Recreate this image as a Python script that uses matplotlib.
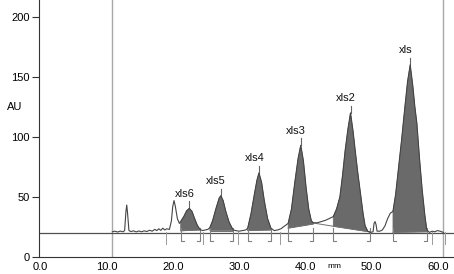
import numpy as np
import matplotlib
matplotlib.use("Agg")
import matplotlib.pyplot as plt

plt.rcParams['font.family'] = ['Liberation Sans', 'DejaVu Sans']

# detector trace (mm, AU)
trace_x = [10.9, 11.3, 11.7, 12.1, 12.5, 12.75, 12.95, 13.07, 13.2, 13.4, 13.7, 14.1, 14.5,
           14.9, 15.3, 15.7, 16.1, 16.5, 16.9, 17.3, 17.6, 17.9, 18.2, 18.5, 18.8, 19.1,
           19.5, 19.8, 20.0, 20.2, 20.4, 20.7, 21.0, 21.2, 21.7, 22.1, 22.5, 22.9, 23.3,
           23.7, 24.1, 24.5, 24.9, 25.3, 25.6, 26.0, 26.5, 27.0, 27.25, 27.6, 28.0, 28.5,
           29.1, 29.5, 30.0, 30.5, 31.0, 31.3, 31.8, 32.3, 32.7, 33.0, 33.4, 33.8, 34.3,
           34.8, 35.3, 35.8, 36.3, 36.9, 37.4, 37.9, 38.4, 38.9, 39.3, 39.7, 40.1, 40.5,
           40.9, 41.2, 41.8, 42.4, 43.0, 43.6, 44.2, 44.7, 45.2, 45.6, 46.0, 46.4, 46.8,
           47.2, 47.5, 47.9, 48.3, 48.7, 49.0, 49.4, 49.8, 50.2, 50.35, 50.5, 50.65, 50.8,
           51.2, 51.6, 52.0, 52.4, 52.8, 53.2, 53.6, 54.0, 54.5, 55.0, 55.4, 55.8, 56.2,
           56.5, 56.8, 57.2, 57.6, 58.0, 58.3, 58.7, 59.1, 59.5, 59.9, 60.3, 60.8]
trace_y = [21.0, 21.5, 20.8, 21.6, 21.0, 22.0, 38.0, 43.3, 36.0, 22.0, 21.2, 21.8, 20.9,
           21.7, 21.0, 21.8, 21.2, 22.3, 21.5, 23.0, 22.0, 23.5, 22.2, 24.0, 22.5, 23.5,
           23.0, 30.0, 42.0, 47.0, 42.0, 32.0, 28.0, 29.5, 34.0, 38.5, 40.5, 38.0, 32.0,
           26.5, 23.0, 22.0, 22.5, 23.0, 24.5, 30.0, 40.0, 49.0, 51.0, 47.0, 38.0, 29.0,
           22.5, 22.0, 21.5, 22.0, 22.5, 24.0, 36.0, 52.0, 64.0, 70.0, 62.0, 47.0, 32.0,
           24.0, 22.0, 22.5, 23.5, 26.0, 28.0, 40.0, 62.0, 82.0, 93.0, 80.0, 58.0, 40.0,
           30.0, 28.5, 28.5, 29.5, 30.5, 32.0, 33.6, 40.0, 50.0, 68.0, 89.0, 106.0, 120.0,
           104.0, 89.0, 70.0, 53.0, 36.0, 26.0, 21.5, 20.5, 21.0, 28.0, 29.5, 27.0, 21.5,
           21.5, 22.5, 26.0, 32.0, 36.5, 38.0, 52.0, 72.0, 97.5, 125.0, 146.0, 160.0, 142.0,
           125.0, 111.5, 82.0, 56.0, 35.0, 22.5, 20.5, 21.5, 21.0, 22.0, 21.5, 20.5]

peak_names = ['xls6', 'xls5', 'xls4', 'xls3', 'xls2', 'xls']
peak_top_x = [22.5, 27.25, 33.0, 39.3, 46.8, 55.8]
peak_top_y = [40.5, 51.0, 70.0, 93.0, 120.0, 160.0]
peak_start = [21.2, 25.6, 31.3, 37.4, 44.2, 53.2]
peak_end = [24.1, 29.1, 34.8, 41.2, 49.8, 58.3]
base_start_y = [21.8, 22.0, 22.0, 24.0, 25.6, 20.5]
base_end_y = [22.5, 22.0, 22.5, 27.5, 20.8, 21.0]
extra_marks = [19.0, 24.5, 29.8, 36.1, 59.1, 61.0]

tx = np.array(trace_x)
ty = np.array(trace_y)

fig = plt.figure(figsize=(4.54, 2.74), dpi=100)
ax = fig.add_axes([0.086, 0.062, 0.914, 0.938])

ax.axhline(20.3, color='#505050', lw=0.9, zorder=2)
ax.axvline(10.9, color='#a8a8a8', lw=1.0, zorder=1)
ax.axvline(60.8, color='#a8a8a8', lw=1.0, zorder=1)

for i in range(len(peak_names)):
    m = (tx >= peak_start[i]) & (tx <= peak_end[i])
    px = list(tx[m]) + [peak_end[i], peak_start[i]]
    py = list(ty[m]) + [base_end_y[i], base_start_y[i]]
    ax.fill(px, py, color='#6a6a6a', lw=0.5, zorder=3)
    ax.plot([peak_start[i], peak_end[i]], [base_start_y[i], base_end_y[i]],
            color='#707070', lw=0.7, zorder=3)
    ax.plot([peak_top_x[i], peak_top_x[i]], [peak_top_y[i], peak_top_y[i] + 6],
            color='#666666', lw=0.8, zorder=4)
    ax.text(peak_top_x[i] - 0.7, peak_top_y[i] + 8, peak_names[i], fontsize=8,
            ha='center', va='bottom', color='#111111')
    # integration markers
    s, e = peak_start[i], peak_end[i]
    ax.plot([s, s, s + 0.45], [24, 13.5, 13.5], color='#808080', lw=0.8, zorder=4)
    ax.plot([e, e, e - 0.45], [24, 13.5, 13.5], color='#808080', lw=0.8, zorder=4)

# tail of the xls3 baseline running under the gap
ax.plot([41.2, 44.2], [28.3, 25.6], color='#707070', lw=0.7, zorder=3)

for xm in extra_marks:
    ax.plot([xm, xm], [21, 11], color='#9a9a9a', lw=0.7, zorder=2)

ax.plot(tx, ty, color='#444444', lw=0.8, zorder=5)

ax.set_xlim(-0.15, 62.4)
ax.set_ylim(0, 214)
ax.set_xticks([0, 10, 20, 30, 40, 50, 60])
ax.set_xticklabels(['0.0', '10.0', '20.0', '30.0', '40.0', '50.0', '60.0'])
ax.set_yticks([0, 50, 100, 150, 200])
ax.tick_params(axis='x', length=0, pad=3.5, labelsize=8)
ax.tick_params(axis='y', length=5, pad=1.5, labelsize=8, color='#333333')
ax.spines['top'].set_visible(False)
ax.spines['right'].set_visible(False)
ax.spines['left'].set_color('#333333')
ax.spines['bottom'].set_color('#333333')

ax.text(-3.8, 125, 'AU', fontsize=8, ha='center', va='center', clip_on=False)
ax.text(44.3, -8.3, 'mm', fontsize=6, ha='center', va='center', clip_on=False)

fig.savefig('out.png', dpi=100)
